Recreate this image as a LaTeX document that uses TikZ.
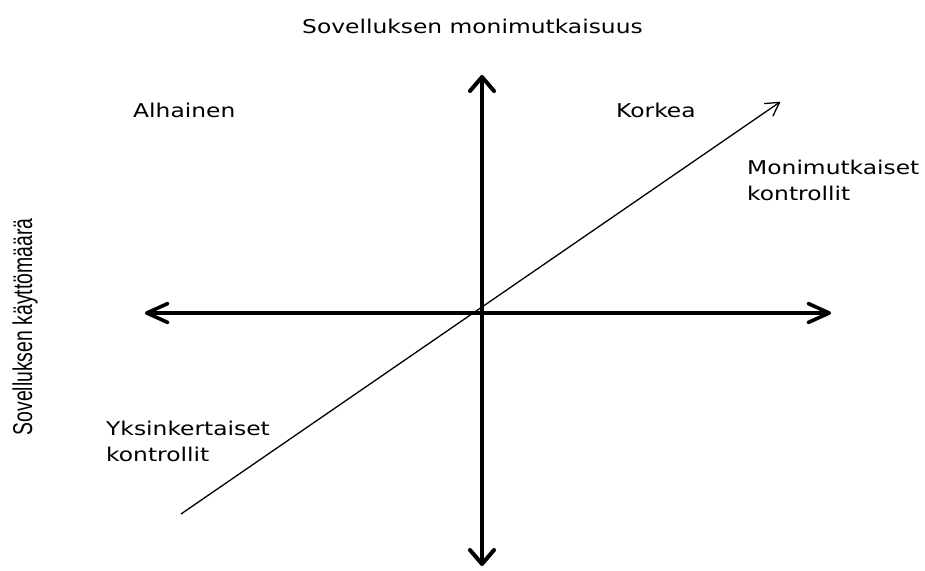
\documentclass[tikz,border=0pt]{standalone}
\usepackage{fontspec}
\setmainfont{DejaVu Sans}
\newfontfamily\narrowfont{Liberation Sans}
\usetikzlibrary{arrows.meta}
\tikzset{
  lbl/.style={inner sep=0pt, anchor=base west, font=\fontsize{19}{26}\selectfont},
  axis/.style={line width=3.6pt, line cap=round},
  hhead/.tip={Straight Barb[length=21pt, width=19pt, line cap=round, line join=round]},
  vhead/.tip={Straight Barb[length=14pt, width=24pt, line cap=round, line join=round]},
  dhead/.tip={Straight Barb[length=13pt, width=15pt, line cap=round, line join=round]},
}
\newcommand{\wide}[1]{\scalebox{1.23}[1]{#1}}
\begin{document}
\begin{tikzpicture}[x=1pt,y=-1pt]
\useasboundingbox[fill=white] (0,0) rectangle (925,570);
\coordinate (L) at (145,313);
\coordinate (R) at (831,313);
\coordinate (T) at (482,75);
\coordinate (B) at (482,566);
\coordinate (D1) at (181,514);
\coordinate (D2) at (780,102);
\draw[axis, hhead-hhead] (L) -- (R);
\draw[axis, line width=4pt, vhead-vhead] (T) -- (B);
\draw[line width=1.3pt, -dhead] (D1) -- (D2);
\node[lbl] (title) at (302,33) {\wide{Sovelluksen monimutkaisuus}};
\node[lbl] (low) at (133,117) {\wide{Alhainen}};
\node[lbl] (high) at (616,117) {\wide{Korkea}};
\node[lbl] (complex) at (747,174) {\wide{\begin{tabular}[t]{@{}l@{}}Monimutkaiset\\kontrollit\end{tabular}}};
\node[lbl] (simple) at (106,435) {\wide{\begin{tabular}[t]{@{}l@{}}Yksinkertaiset\\kontrollit\end{tabular}}};
\node[inner sep=0pt] (usage) at (25,327) {\scalebox{1.4}[1]{\rotatebox{90}{\narrowfont\fontsize{19.4}{22}\selectfont Sovelluksen käyttömäärä}}};
\end{tikzpicture}
\end{document}
